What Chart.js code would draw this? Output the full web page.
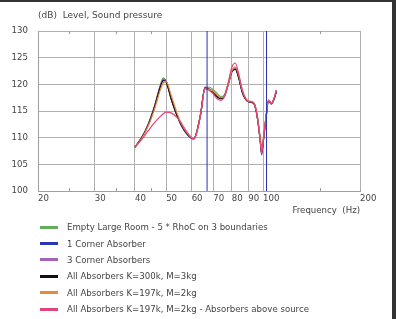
<!DOCTYPE html>
<html>
<head>
<meta charset="utf-8">
<script src="https://cdn.jsdelivr.net/npm/chart.js@4.4.0/dist/chart.umd.min.js"></script>
<style>
  body { margin: 0; background: #fff; font-family: "DejaVu Sans", Verdana, sans-serif; }
  .wrap { position: relative; width: 396px; height: 319px; overflow: hidden; background: #fff; }
  .frame { position: absolute; left: 0; top: 0; width: 396px; height: 319px; box-sizing: border-box;
           border-top: 2px solid #333; border-right: 4px solid #333; pointer-events: none; }
  .chart-title { position: absolute; left: 38px; top: 10px; font-size: 9px; color: #444; white-space: pre; }
  .legend { position: absolute; left: 40px; top: 219px; font-size: 8.6px; color: #444; }
  .legend-row { height: 16.4px; display: flex; align-items: center; white-space: nowrap; }
  .legend-swatch { width: 18px; height: 3px; margin-right: 9px; }
</style>
</head>
<body>
<div class="wrap">
  <canvas id="myChart" width="396" height="319"></canvas>
  <div class="chart-title">(dB)  Level, Sound pressure</div>
  <div class="legend" id="legend"></div>
  <div class="frame"></div>
</div>
<script>
// frequency points (Hz)
const freq = [40, 42, 44, 46, 48, 49, 50, 52, 54, 56, 58, 60, 61, 62, 64, 66, 68, 70, 72, 74, 76, 78, 80, 82, 84, 86, 88, 90, 92, 94, 96, 98, 99, 100, 102, 104, 106, 108, 110];

// sound pressure level (dB) per series
const emptyRoom = [108.2, 110.0, 112.5, 115.9, 119.9, 121.2, 120.6, 117.0, 114.2, 112.1, 110.7, 109.9, 109.8, 110.7, 114.5, 119.4, 119.5, 119.0, 118.3, 117.7, 118.1, 120.2, 122.6, 123.1, 121.4, 118.8, 117.4, 116.8, 116.7, 116.3, 113.9, 109.7, 107.4, 109.2, 113.6, 117.0, 116.4, 117.2, 118.8];
const oneCorner = [108.2, 110.0, 112.5, 115.8, 119.7, 120.9, 120.5, 117.0, 114.2, 112.1, 110.7, 109.9, 109.8, 110.7, 114.5, 119.5, 119.1, 118.4, 117.6, 117.3, 117.9, 120.1, 122.4, 123.0, 121.3, 118.7, 117.3, 116.7, 116.6, 116.2, 113.7, 109.4, 106.8, 108.9, 113.4, 117.0, 116.3, 117.1, 118.7];
const threeCorner = [108.2, 110.0, 112.5, 115.8, 119.8, 121.0, 120.6, 117.1, 114.3, 112.1, 110.7, 109.9, 109.8, 110.7, 114.5, 119.4, 119.2, 118.6, 117.8, 117.4, 118.0, 120.2, 122.5, 123.0, 121.3, 118.8, 117.4, 116.8, 116.7, 116.3, 113.8, 109.6, 107.1, 109.1, 113.5, 117.0, 116.4, 117.2, 118.8];
const allK300 = [108.2, 110.0, 112.4, 115.7, 119.6, 120.7, 120.4, 117.0, 114.2, 112.1, 110.7, 109.9, 109.8, 110.7, 114.4, 119.3, 119.0, 118.5, 117.7, 117.3, 117.9, 120.0, 122.3, 122.8, 121.2, 118.7, 117.3, 116.8, 116.7, 116.2, 113.8, 109.5, 107.1, 109.0, 113.5, 117.0, 116.4, 117.1, 118.7];
const allK197 = [108.2, 109.9, 112.2, 115.3, 119.0, 120.3, 120.5, 117.7, 114.7, 112.4, 110.9, 110.0, 109.8, 110.6, 114.3, 119.2, 119.0, 118.7, 118.0, 117.5, 117.9, 120.0, 122.5, 123.3, 121.7, 119.0, 117.5, 116.9, 116.8, 116.4, 114.1, 109.9, 107.6, 109.4, 113.8, 117.1, 116.5, 117.3, 118.9];
const allAbove = [108.2, 109.7, 111.3, 112.8, 114.0, 114.5, 114.8, 114.6, 113.8, 112.5, 111.1, 110.0, 109.8, 110.6, 114.3, 119.2, 118.9, 118.2, 117.3, 117.0, 117.8, 120.4, 123.2, 124.0, 122.0, 119.2, 117.5, 116.8, 116.7, 116.3, 113.8, 109.4, 107.0, 109.0, 113.4, 116.9, 116.4, 117.2, 118.9];

const seriesNames = ['Empty Large Room - 5 * RhoC on 3 boundaries', '1 Corner Absorber', '3 Corner Absorbers', 'All Absorbers K=300k, M=3kg', 'All Absorbers K=197k, M=2kg', 'All Absorbers K=197k, M=2kg - Absorbers above source'];
const seriesValues = [emptyRoom, oneCorner, threeCorner, allK300, allK197, allAbove];
const seriesColors = ['#62ad5c', '#2a36b8', '#a462b8', '#111111', '#e88a3c', '#e2447c'];

// vertical marker lines (Hz)
const markerFreqs = [67, 102.5];

// axis ticks
const xTicks = [20, 30, 40, 50, 60, 70, 80, 90, 100, 200];
const xMinorTicks = [25, 35, 45, 150];
const yTicks = [100, 105, 110, 115, 120, 125, 130];

const datasets = [];
markerFreqs.forEach(f => {
    datasets.push({
        data: [{x: f, y: yTicks[0]}, {x: f, y: yTicks[yTicks.length - 1]}],
        borderColor: '#2a30b0',
        borderWidth: 1,
        pointRadius: 0
    });
});
// later series are drawn on top, like the original plot
for (let i = 0; i < seriesValues.length; i++) {
    datasets.push({
        label: seriesNames[i],
        data: freq.map((f, j) => ({x: f, y: seriesValues[i][j]})),
        borderColor: seriesColors[i],
        borderWidth: 1.2,
        pointRadius: 0,
        cubicInterpolationMode: 'monotone',
        order: seriesValues.length - i
    });
}

const minorTickPlugin = {
    id: 'minorTicks',
    afterDraw(chart) {
        const ctx = chart.ctx;
        const xs = chart.scales.x;
        const area = chart.chartArea;
        ctx.save();
        ctx.strokeStyle = '#999';
        ctx.lineWidth = 1;
        xMinorTicks.forEach(v => {
            const px = Math.round(xs.getPixelForValue(v)) + 0.5;
            ctx.beginPath();
            ctx.moveTo(px, area.top);
            ctx.lineTo(px, area.top + 3);
            ctx.moveTo(px, area.bottom);
            ctx.lineTo(px, area.bottom - 3);
            ctx.stroke();
        });
        ctx.restore();
    }
};

const font = {family: '"DejaVu Sans", Verdana, sans-serif', size: 8.6};

const config = {
    type: 'line',
    data: {datasets: datasets},
    options: {
        responsive: false,
        animation: false,
        layout: {padding: {left: 0, top: 31, right: 36, bottom: 103}},
        plugins: {legend: {display: false}, tooltip: {enabled: false}},
        scales: {
            x: {
                type: 'logarithmic',
                min: 20,
                max: 200,
                afterBuildTicks: (s) => { s.ticks = xTicks.map(v => ({value: v})); },
                afterFit: (s) => { s.height = 25; },
                grid: {color: '#b0b0b0', drawTicks: false},
                border: {color: '#a0a0a0'},
                ticks: {
                    autoSkip: false,
                    maxRotation: 0,
                    align: 'start',
                    padding: 3,
                    color: '#444',
                    font: font,
                    callback: (v) => String(v)
                },
                title: {display: true, text: 'Frequency  (Hz)', align: 'end', color: '#444', font: font, padding: 0}
            },
            y: {
                min: 100,
                max: 130,
                afterBuildTicks: (s) => { s.ticks = yTicks.map(v => ({value: v})); },
                afterFit: (s) => { s.width = 38; },
                grid: {color: '#b0b0b0', drawTicks: false},
                border: {color: '#a0a0a0'},
                ticks: {padding: 10, color: '#444', font: font}
            }
        }
    },
    plugins: [minorTickPlugin]
};

const myChart = new Chart(document.getElementById('myChart'), config);

// legend
const legend = document.getElementById('legend');
for (let i = 0; i < seriesNames.length; i++) {
    const row = document.createElement('div');
    row.classList.add('legend-row');
    const sw = document.createElement('div');
    sw.classList.add('legend-swatch');
    sw.style.background = seriesColors[i];
    const txt = document.createElement('span');
    txt.innerText = seriesNames[i];
    row.appendChild(sw);
    row.appendChild(txt);
    legend.appendChild(row);
}
</script>
</body>
</html>
